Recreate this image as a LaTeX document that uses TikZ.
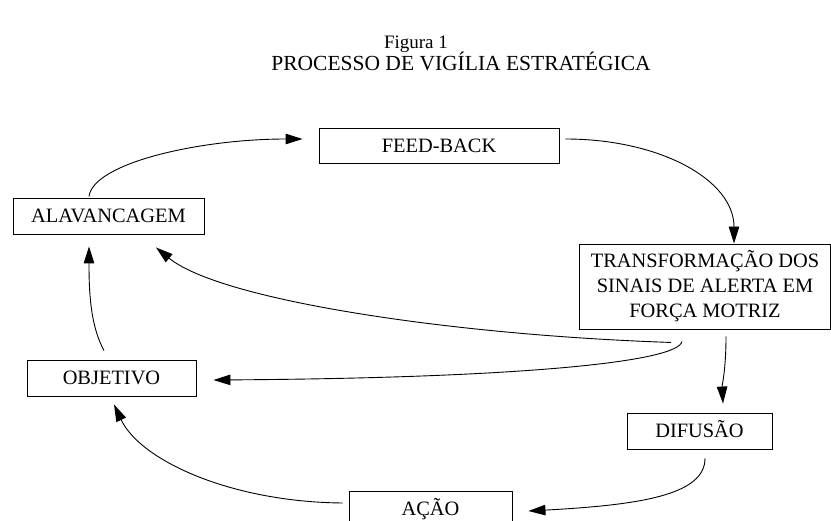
\documentclass[tikz,border=0pt]{standalone}
\usepackage{fontspec}
\setmainfont{Liberation Serif}
\usetikzlibrary{arrows.meta,calc}
\begin{document}
\begin{tikzpicture}[x=1pt,y=-1pt,
  box/.style={draw,line width=0.9pt,inner sep=0pt,font=\fontsize{20.4}{25}\selectfont,anchor=center},
  onel/.style={text height=13.6pt,text depth=0pt},
  conn/.style={line width=0.9pt,-{Triangle[length=17pt,width=10.5pt]}},
  ttl/.style={anchor=base,inner sep=0pt}]
\useasboundingbox (0,0) rectangle (831,521);
\clip (0,0) rectangle (831,521);
\node[ttl,font=\fontsize{19}{22}\selectfont] (fig) at (416,49) {Figura 1};
\node[ttl,font=\fontsize{21.5}{24}\selectfont] (tit) at (461,71) {PROCESSO DE VIGÍLIA ESTRATÉGICA};
\node[box,onel,minimum width=240pt,minimum height=35pt] (feed) at (439,145.5) {FEED-BACK};
\node[box,onel,minimum width=191pt,minimum height=36pt] (alav) at (108.5,216) {ALAVANCAGEM};
\node[box,minimum width=251pt,minimum height=85pt,align=center] (trans) at (705,286.5) {\raisebox{-2pt}{\parbox{250pt}{\centering TRANSFORMAÇÃO DOS\\SINAIS DE ALERTA EM\\FORÇA MOTRIZ}}};
\node[box,onel,minimum width=169pt,minimum height=36pt] (obj) at (111.5,378) {OBJETIVO};
\node[box,onel,minimum width=145pt,minimum height=36pt] (dif) at (699.5,431) {DIFUSÃO};
\node[box,onel,minimum width=163pt,minimum height=36pt] (acao) at (430.5,509) {AÇÃO};
% connectors
\draw[conn] ($(alav.north)+(-19.5,-1)$) .. controls (93,163) and (200,139) .. ($(feed.west)+(-16,-6.5)$);
\draw[conn] ($(feed.east)+(6,-6.5)$) .. controls (660,139) and (734,180) .. ($(trans.north)+(29,0)$);
\draw[conn] ($(trans.south)+(-34,13)$) .. controls (450,335) and (220,300) .. ($(alav.south)+(47.5,13)$);
\draw[conn] ($(trans.south)+(-23,12)$) .. controls (678,362) and (520,378) .. ($(obj.east)+(17,2)$);
\draw[conn] ($(trans.south)+(21,7)$) .. controls (726,370) and (722,385) .. ($(dif.north)+(23.5,-9)$);
\draw[conn] ($(dif.south)+(5.5,9)$) .. controls (705,495) and (640,505) .. ($(acao.east)+(16,2)$);
\draw[conn] ($(acao.west)+(-6,-6)$) .. controls (230,502) and (140,460) .. ($(obj.south)+(2.5,8)$);
\draw[conn] ($(obj.north)+(-7.5,-9)$) .. controls (90,325) and (89,290) .. ($(alav.south)+(-19.5,12)$);
\end{tikzpicture}
\end{document}
